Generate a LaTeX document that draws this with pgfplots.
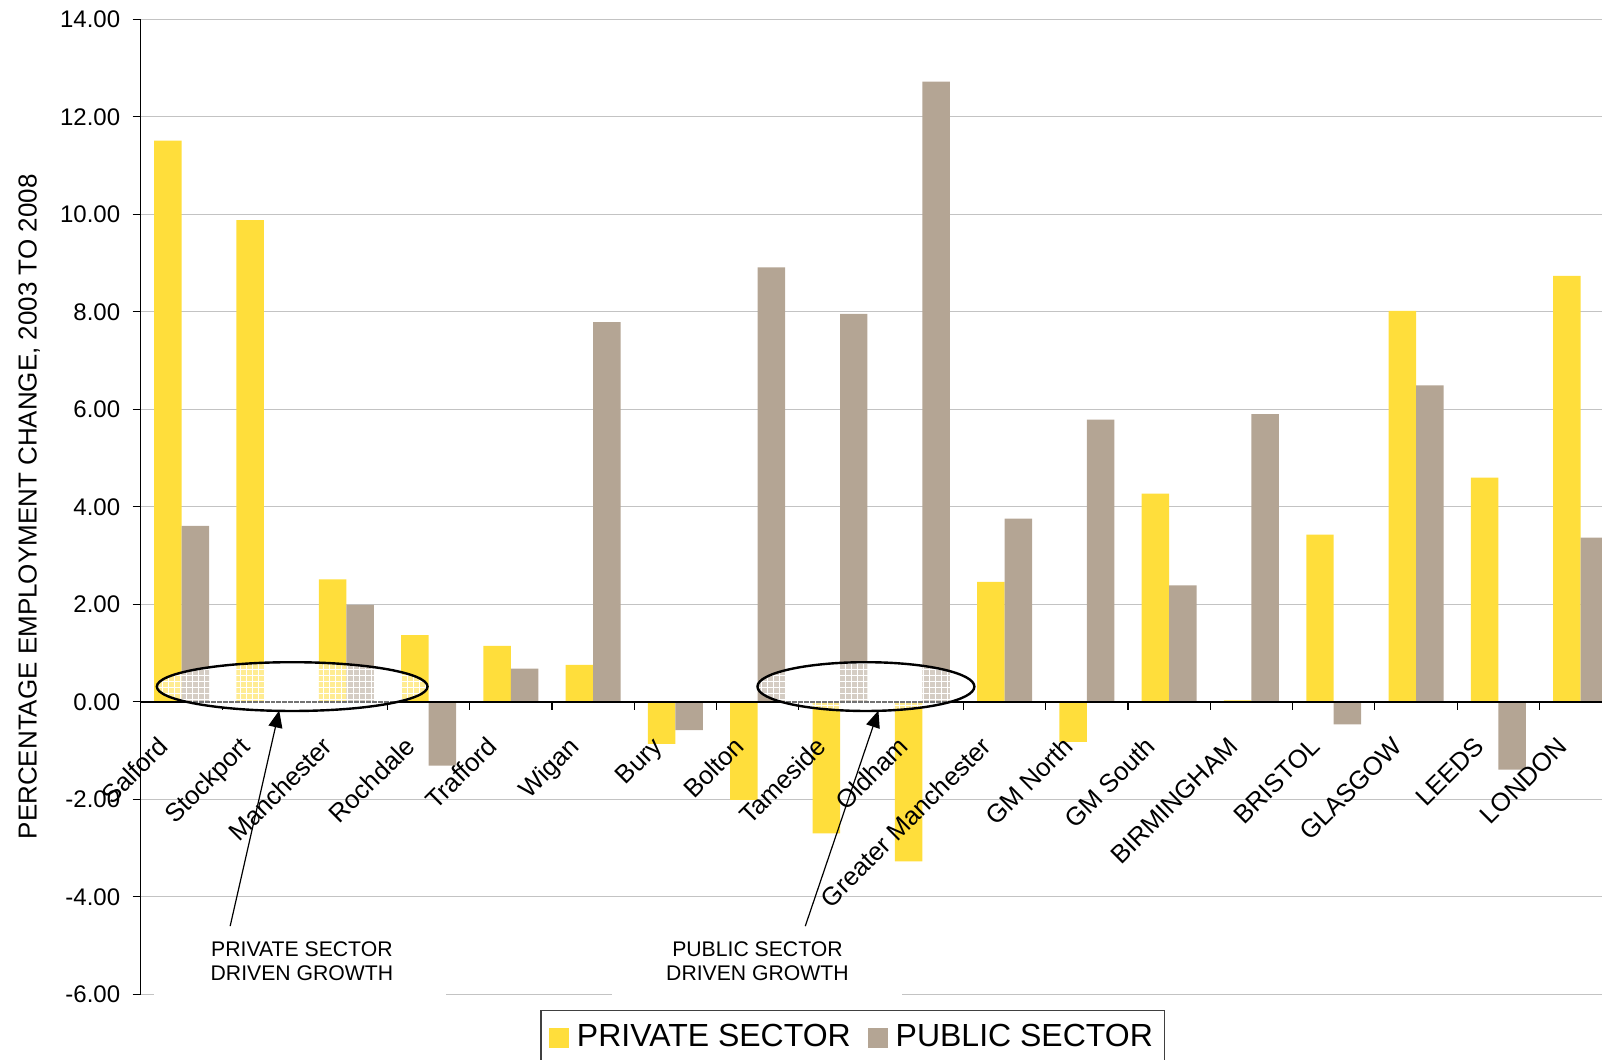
\documentclass[border=0pt]{standalone}
\usepackage{pgfplots}
\pgfplotsset{compat=1.18}
\usepackage{fontspec}
\setmainfont{Liberation Sans}
\usetikzlibrary{arrows.meta,patterns}
\definecolor{priv}{RGB}{255,222,59}
\definecolor{publ}{RGB}{180,165,148}
\definecolor{gridc}{RGB}{195,195,195}
\pgfplotsset{
  layers/mylayers/.define layer set={
    axis background,axis grid,axis ticks,main,axis lines,axis tick labels,
    axis descriptions,axis foreground
  }{
    grid style={/pgfplots/on layer=axis grid},
    tick style={/pgfplots/on layer=axis ticks},
    axis line style={/pgfplots/on layer=axis lines},
    label style={/pgfplots/on layer=axis descriptions},
    legend style={/pgfplots/on layer=axis descriptions},
    title style={/pgfplots/on layer=axis descriptions},
    colorbar style={/pgfplots/on layer=axis descriptions},
    ticklabel style={/pgfplots/on layer=axis tick labels},
    axis background@ style={/pgfplots/on layer=axis background},
    3d box foreground style={/pgfplots/on layer=axis foreground},
  },
}

\begin{document}
\begin{tikzpicture}
\begin{axis}[
  set layers=mylayers,
  name=ax,
  scale only axis,
  width=731pt, height=487.7pt,
  xmin=-0.5, xmax=17.26,
  ymin=-6, ymax=14,
  clip=false,
  axis x line=middle,
  axis y line=left,
  axis line style={-, black, line width=0.7pt},
  hide obscured x ticks=false,
  hide obscured y ticks=false,
  ytick={-6,-4,...,14},
  ymajorgrids,
  grid style={gridc, line width=0.6pt},
  tick align=outside,
  major tick length=4pt,
  tick style={black, line width=0.6pt},
  yticklabel={\pgfmathprintnumber[fixed,fixed zerofill,precision=2,assume math mode=true]{\tick}},
  yticklabel style={font=\fontsize{12}{14}\selectfont, anchor=east, inner sep=0pt, xshift=-6pt},
  xtick={0.5,1.5,...,16.5},
  xticklabels={},
  extra x ticks={0,1,...,17},
  extra x tick labels={Salford,Stockport,Manchester,Rochdale,Trafford,Wigan,Bury,Bolton,Tameside,Oldham,Greater Manchester,GM North,GM South,BIRMINGHAM,BRISTOL,GLASGOW,LEEDS,LONDON},
  extra x tick style={major tick length=0pt},
  xticklabel style={font=\fontsize{12.8}{15}\selectfont, xshift=-6pt, yshift=-23pt, rotate=45, anchor=base east, inner sep=0pt},
  ylabel={PERCENTAGE EMPLOYMENT CHANGE, 2003 TO 2008},
  every axis y label/.style={at={(axis description cs:-0.0762,0.5)}, rotate=90, anchor=center, font=\fontsize{13}{15}\selectfont},
  ybar,
  bar width=0.334,
  legend style={at={(axis description cs:0.2736,-0.0157)}, anchor=north west, draw=black!75, line width=0.6pt,
    font=\fontsize{16}{18}\selectfont, legend columns=2, inner xsep=4pt, inner ysep=5pt,
    /tikz/every even column/.append style={column sep=6.5pt}},
  legend cell align=left,
]
\addplot[fill=priv, draw=none, bar shift=-0.167,
  legend image code/.code={\fill[priv] (0pt,-5.5pt) rectangle (10pt,4.5pt); \path (12pt,0pt);}]
  coordinates {(0,11.51) (1,9.88) (2,2.51) (3,1.37) (4,1.15) (5,0.76) (6,-0.86) (7,-2.01) (8,-2.70) (9,-3.27) (10,2.46) (11,-0.82) (12,4.27) (13,0.03) (14,3.43) (15,8.02) (16,4.60) (17,8.74)};
\addlegendentry{PRIVATE SECTOR}
\addplot[fill=publ, draw=none, bar shift=0.167,
  legend image code/.code={\fill[publ] (0pt,-5.5pt) rectangle (10pt,4.5pt); \path (12pt,0pt);}]
  coordinates {(0,3.61) (1,0) (2,1.99) (3,-1.31) (4,0.68) (5,7.79) (6,-0.58) (7,8.91) (8,7.96) (9,12.72) (10,3.76) (11,5.79) (12,2.39) (13,5.90) (14,-0.46) (15,6.49) (16,-1.39) (17,3.37)};
\addlegendentry{PUBLIC SECTOR}

% annotation boxes
\fill[white] (axis cs:-0.342,-4.3) rectangle (axis cs:3.218,-6.15);
\fill[white] (axis cs:5.235,-4.3) rectangle (axis cs:8.759,-6.15);
\node[align=center, font=\fontsize{10.6}{11.85}\selectfont] at (axis cs:1.461,-5.32) {PRIVATE SECTOR\\DRIVEN GROWTH};
\node[align=center, font=\fontsize{10.6}{11.85}\selectfont] at (axis cs:6.997,-5.32) {PUBLIC SECTOR\\DRIVEN GROWTH};

\begin{pgfonlayer}{axis foreground}
% ellipses
\fill[white, fill opacity=0.45] (axis cs:1.343,0.313) ellipse [x radius=67.7pt, y radius=12.2pt];
\fill[pattern=grid, pattern color=white] (axis cs:1.343,0.313) ellipse [x radius=67.7pt, y radius=12.2pt];
\draw[black, line width=1.2pt] (axis cs:1.343,0.313) ellipse [x radius=67.7pt, y radius=12.2pt];
\fill[white, fill opacity=0.45] (axis cs:8.315,0.313) ellipse [x radius=54.25pt, y radius=12.2pt];
\fill[pattern=grid, pattern color=white] (axis cs:8.315,0.313) ellipse [x radius=54.25pt, y radius=12.2pt];
\draw[black, line width=1.2pt] (axis cs:8.315,0.313) ellipse [x radius=54.25pt, y radius=12.2pt];
\draw[-{Triangle[length=8.5pt,width=7pt]}, line width=0.6pt] (axis cs:0.589,-4.6) -- (axis cs:1.185,-0.178);
\draw[-{Triangle[length=8.5pt,width=7pt]}, line width=0.6pt] (axis cs:7.578,-4.6) -- (axis cs:8.467,-0.178);
\end{pgfonlayer}
\end{axis}
\pgfresetboundingbox
\path[use as bounding box] ([xshift=-70.3pt,yshift=-32.6pt]ax.south west) rectangle ([yshift=9.67pt]ax.north east);
\end{tikzpicture}
\end{document}
